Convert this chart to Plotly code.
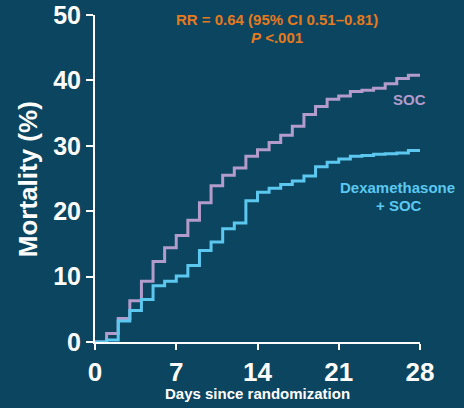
import plotly.graph_objects as go

days = list(range(0, 29))
soc = [0, 1.3, 3.6, 6.3, 9.3, 12.3, 14.4, 16.3, 18.6, 21.3, 23.9, 25.5, 26.6, 28.4,
       29.4, 30.5, 31.6, 33.0, 34.8, 36.0, 37.1, 37.6, 38.3, 38.5, 38.8, 39.5, 40.3, 40.8, 40.8]
dex = [0, 0.3, 3.2, 4.8, 6.5, 8.6, 9.3, 10.1, 11.7, 14.0, 15.3, 17.3, 18.2, 21.6,
       22.9, 23.5, 24.1, 24.6, 25.4, 26.8, 27.5, 28.0, 28.4, 28.5, 28.7, 28.8, 28.9, 29.3, 29.3]
x_ticks = [0, 7, 14, 21, 28]
y_ticks = [0, 10, 20, 30, 40, 50]

BG = "#0b4560"
PURPLE = "#b39ccb"
BLUE = "#5cc8f0"
ORANGE = "#e57a1e"
FONT = "Arial, Liberation Sans, sans-serif"

fig = go.Figure()
fig.add_trace(go.Scatter(x=days, y=soc, mode="lines", line=dict(color=PURPLE, width=3, shape="hv"),
                         name="SOC", showlegend=False))
fig.add_trace(go.Scatter(x=days, y=dex, mode="lines", line=dict(color=BLUE, width=3, shape="hv"),
                         name="Dexamethasone + SOC", showlegend=False))

fig.update_layout(
    width=464, height=408,
    margin=dict(l=95, r=44, t=15, b=66, autoexpand=False),
    paper_bgcolor=BG, plot_bgcolor=BG,
    font=dict(family=FONT, color="white"),
    xaxis=dict(range=[0, 28], tickvals=x_ticks, showgrid=False, zeroline=False,
               showline=True, linecolor="white", linewidth=2, automargin=False,
               ticks="outside", ticklen=6, tickwidth=2, tickcolor="white",
               tickfont=dict(size=26, family=FONT, color="white", weight="bold")),
    yaxis=dict(range=[0, 50], tickvals=y_ticks, showgrid=False, zeroline=False,
               showline=True, linecolor="white", linewidth=2, automargin=False,
               ticks="outside", ticklen=7, tickwidth=2, tickcolor="white",
               tickfont=dict(size=25, family=FONT, color="white", weight="bold")),
)

ann = [
    dict(text="<b>Mortality (%)</b>", x=-0.206, y=0.498, textangle=-90,
         font=dict(size=26, color="white")),
    dict(text="<b>Days since randomization</b>", x=0.5006, y=-0.157,
         font=dict(size=15, color="white")),
    dict(text="<b>RR = 0.64 (95% CI 0.51–0.81)</b>", x=0.5615, y=0.985,
         font=dict(size=15, color=ORANGE)),
    dict(text="<b><i>P</i> <.001</b>", x=0.56, y=0.93,
         font=dict(size=15, color=ORANGE)),
    dict(text="<b>SOC</b>", x=0.969, y=0.742, font=dict(size=15, color=PURPLE)),
    dict(text="<b>Dexamethasone</b>", x=0.931, y=0.4726, font=dict(size=15, color=BLUE)),
    dict(text="<b>+ SOC</b>", x=0.936, y=0.418, font=dict(size=15, color=BLUE)),
]
for a in ann:
    fig.add_annotation(xref="paper", yref="paper", showarrow=False,
                       xanchor="center", yanchor="middle", **a)

fig.write_html("out.html")
